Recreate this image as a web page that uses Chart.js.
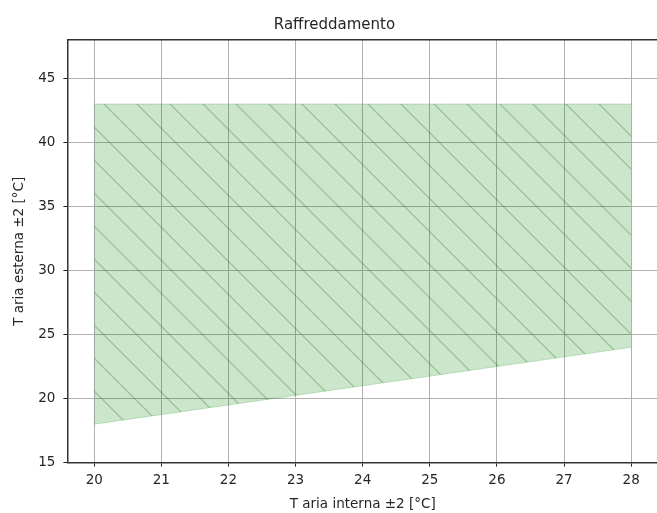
<!DOCTYPE html>
<html>
<head>
<meta charset="utf-8">
<script src="https://cdn.jsdelivr.net/npm/chart.js@4"></script>
<style>
  html, body { margin: 0; padding: 0; background: #fff; overflow: hidden; width: 657px; height: 513px; }
  #wrap { position: absolute; left: 0; top: 0; width: 724px; height: 513px; }
</style>
</head>
<body>
<div id="wrap"><canvas id="c" width="724" height="513"></canvas></div>
<script>
// Data
const chartTitle = 'Raffreddamento';
const xLabel = 'T aria interna ±2 [°C]';
const yLabel = 'T aria esterna ±2 [°C]';
const tInterna = [20, 28];          // x of the operating envelope
const tEsternaMin = [18, 24];       // lower boundary
const tEsternaMax = [43, 43];       // upper boundary
const xTicks = [20, 21, 22, 23, 24, 25, 26, 27, 28];
const yTicks = [15, 20, 25, 30, 35, 40, 45];
const xRange = [19.6, 28.4];
const yRange = [15, 48];

function hatchPattern() {
  const s = 33;
  const c = document.createElement('canvas');
  c.width = s; c.height = s;
  const g = c.getContext('2d');
  g.fillStyle = 'rgba(0,128,0,0.2)';
  g.fillRect(0, 0, s, s);
  g.strokeStyle = 'rgba(0,100,0,0.25)';
  g.lineWidth = 1.4;
  for (const k of [-s, 0, s]) {
    g.beginPath();
    g.moveTo(k - 2, -2);
    g.lineTo(k + s + 2, s + 2);
    g.stroke();
  }
  return g.createPattern(c, 'repeat');
}

const lowerPts = tInterna.map((x, i) => ({ x, y: tEsternaMin[i] }));
const upperPts = tInterna.map((x, i) => ({ x, y: tEsternaMax[i] }));

const font = { family: 'DejaVu Sans', size: 13.5 };
const txt = '#262626';

new Chart(document.getElementById('c'), {
  type: 'scatter',
  data: {
    datasets: [
      { data: lowerPts, showLine: true, pointRadius: 0, borderColor: 'rgba(0,128,0,0.2)', borderWidth: 1, fill: false },
      { data: upperPts, showLine: true, pointRadius: 0, borderColor: 'rgba(0,128,0,0.2)', borderWidth: 1, fill: '-1', backgroundColor: hatchPattern() }
    ]
  },
  options: {
    responsive: false,
    animation: false,
    layout: { padding: { left: 11, right: 66, top: 10, bottom: 0 } },
    plugins: {
      legend: { display: false },
      tooltip: { enabled: false },
      title: { display: true, text: chartTitle, color: txt, font: { family: 'DejaVu Sans', size: 15, weight: 'normal' }, padding: { top: 6, bottom: 6 } }
    },
    scales: {
      x: {
        type: 'linear', position: 'bottom', min: xRange[0], max: xRange[1],
        afterBuildTicks: (ax) => { ax.ticks = xTicks.map(v => ({ value: v })); },
        ticks: { color: txt, font, padding: 6, maxRotation: 0, callback: v => String(v) },
        grid: { color: '#b0b0b0', lineWidth: 1, tickColor: '#222', tickLength: 4 },
        border: { display: true, color: '#333', width: 1.5 },
        title: { display: true, text: xLabel, color: txt, font, padding: { top: 2, bottom: 0 } }
      },
      x2: {
        type: 'linear', position: 'top', min: xRange[0], max: xRange[1],
        ticks: { display: false },
        grid: { display: false, drawTicks: false },
        border: { display: true, color: '#333', width: 1.5 }
      },
      y: {
        type: 'linear', position: 'left', min: yRange[0], max: yRange[1],
        afterBuildTicks: (ax) => { ax.ticks = yTicks.map(v => ({ value: v })); },
        ticks: { color: txt, font, padding: 8, callback: v => String(v) },
        grid: { color: '#b0b0b0', lineWidth: 1, tickColor: '#222', tickLength: 4 },
        border: { display: true, color: '#333', width: 1.5 },
        title: { display: true, text: yLabel, color: txt, font, padding: { top: 0, bottom: 3 } }
      }
    }
  }
});
</script>
</body>
</html>
